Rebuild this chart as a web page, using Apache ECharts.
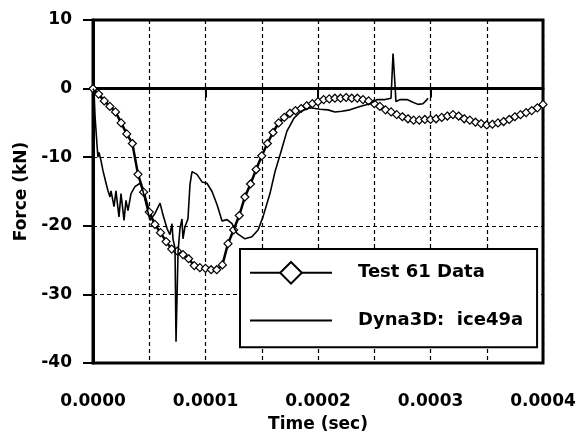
<!DOCTYPE html>
<html>
<head>
<meta charset="utf-8">
<script src="https://cdn.jsdelivr.net/npm/echarts@6/dist/echarts.min.js"></script>
<style>
html,body{margin:0;padding:0;background:#fff;}
#c{width:582px;height:438px;}
</style>
</head>
<body>
<div id="c"></div>
<script>
// Time in microseconds (axis labels shown in seconds)
var testT = [0,5,10,15,20,25,30,35,40,45,50,55,60,65,70,75,80,85,90,95,100,105,110,115,120,125,130,135,140,145,150,155,160,165,170,175,180,185,190,195,200,205,210,215,220,225,230,235,240,245,250,255,260,265,270,275,280,285,290,295,300,305,310,315,320,325,330,335,340,345,350,355,360,365,370,375,380,385,390,395,400];
var testF = [0,-0.8,-1.8,-2.6,-3.4,-5.0,-6.6,-8.0,-12.5,-15.1,-18.0,-19.8,-21.0,-22.3,-23.4,-23.7,-24.2,-24.8,-25.8,-26.1,-26.2,-26.4,-26.4,-25.7,-22.6,-20.6,-18.5,-15.8,-13.9,-11.8,-9.8,-8.0,-6.4,-5.0,-4.2,-3.6,-3.2,-2.9,-2.5,-2.2,-1.9,-1.6,-1.5,-1.4,-1.4,-1.3,-1.4,-1.4,-1.6,-1.8,-2.2,-2.6,-3.1,-3.4,-3.8,-4.1,-4.4,-4.6,-4.6,-4.5,-4.5,-4.4,-4.2,-4.0,-3.8,-4.0,-4.4,-4.6,-4.9,-5.1,-5.3,-5.2,-5.0,-4.8,-4.5,-4.1,-3.8,-3.5,-3.2,-2.8,-2.3];

var dynaT = [0,0.9,1.8,3.6,4.4,5.3,7.1,8.9,11.6,13.3,15.1,16.0,18.7,20.4,23.1,24.9,27.6,29.3,31.1,33.8,37.3,41.8,44.4,47.1,50.7,55.1,59.6,62.2,65.8,68.4,70.2,71.1,72.9,73.8,75.6,77.3,79.1,80.0,81.8,84.4,86.2,88.0,92.4,96.9,101.3,105.8,110.2,114.7,119.1,123.6,128.0,135.1,141.3,146.7,151.1,157.3,161.8,167.1,172.4,178.7,184.9,192.9,201.8,208.9,215.1,221.3,228.4,237.3,246.2,252.4,259.6,264.9,265.8,266.7,268.4,269.3,272.9,279.1,284.4,288.9,293.3,296.9,297.8];
var dynaF = [0,-0.3,-4.0,-8.3,-10.0,-9.3,-10.5,-12.0,-13.8,-14.9,-15.8,-14.9,-17.2,-14.9,-18.7,-15.3,-19.2,-16.3,-17.8,-15.3,-14.3,-13.8,-14.9,-16.8,-19.2,-18.2,-16.7,-18.4,-20.4,-21.3,-19.7,-21.9,-23.3,-36.9,-23.8,-20.4,-19.0,-21.9,-20.1,-19.0,-14.0,-12.1,-12.5,-13.6,-13.8,-15.0,-16.9,-19.3,-19.1,-19.7,-21.1,-21.9,-21.6,-20.6,-18.7,-15.3,-12.1,-9.2,-6.2,-4.3,-3.3,-2.8,-3.0,-3.1,-3.4,-3.3,-3.1,-2.6,-2.2,-1.6,-1.6,-1.4,-1.2,5.1,0.7,-1.9,-1.6,-1.6,-2.0,-2.3,-2.2,-1.6,-1.4];

var xTicks = [0,100,200,300,400];
var yTicks = [-40,-30,-20,-10,0,10];
var seriesNames = ['Test 61 Data', 'Dyna3D:  ice49a'];
var axisNames = {x:'Time (sec)', y:'Force (kN)'};

function zip(a,b){var r=[];for(var i=0;i<a.length;i++){r.push([a[i],b[i]]);}return r;}

var FONT = 'DejaVu Sans';
var chart = echarts.init(document.getElementById('c'), null, {renderer:'canvas'});
var dash = {color:'#000', width:1.2, type:[4,3]};
chart.setOption({
  animation:false,
  backgroundColor:'#fff',
  grid:{left:93, right:39, top:20, bottom:75, show:true, borderColor:'#000', borderWidth:3, backgroundColor:'transparent'},
  xAxis:{
    type:'value', min:xTicks[0], max:xTicks[xTicks.length-1], interval:100,
    name:axisNames.x, nameLocation:'middle', nameGap:53,
    nameTextStyle:{fontFamily:FONT, fontWeight:'bold', fontSize:17, color:'#000'},
    axisLine:{lineStyle:{color:'#000', width:3}},
    axisTick:{show:true, inside:false, length:9, lineStyle:{color:'#000', width:2}},
    minorTick:{show:false, splitNumber:2},
    axisLabel:{margin:30, fontFamily:FONT, fontWeight:'bold', fontSize:17, color:'#000',
      formatter:function(v){return (v/1e6).toFixed(4);}},
    splitLine:{show:true, lineStyle:dash},
    minorSplitLine:{show:true, lineStyle:dash}
  },
  yAxis:{
    type:'value', min:yTicks[0], max:yTicks[yTicks.length-1], interval:10,
    name:axisNames.y, nameLocation:'middle', nameGap:59, nameRotate:90,
    nameTextStyle:{fontFamily:FONT, fontWeight:'bold', fontSize:17, color:'#000'},
    axisLine:{show:true, lineStyle:{color:'#000', width:3}},
    axisTick:{show:true, inside:false, length:10, lineStyle:{color:'#000', width:2}},
    axisLabel:{margin:21, fontFamily:FONT, fontWeight:'bold', fontSize:17, color:'#000'},
    splitLine:{show:true, lineStyle:dash}
  },
  legend:{
    orient:'vertical', left:240, top:249,
    data:seriesNames,
    itemWidth:82, itemHeight:27, itemGap:25,
    padding:[12,14,16,9],
    borderColor:'#000', borderWidth:2, backgroundColor:'#fff',
    textStyle:{fontFamily:FONT, fontWeight:'bold', fontSize:18, color:'#000', padding:[0,0,0,21]}
  },
  series:[
    {
      name:seriesNames[0], type:'line', data:zip(testT,testF), z:3,
      symbol:'diamond', symbolSize:8, showSymbol:true,
      lineStyle:{color:'#000', width:2.5},
      itemStyle:{color:'#fff', borderColor:'#000', borderWidth:1.2}
    },
    {
      name:seriesNames[1], type:'line', data:zip(dynaT,dynaF), z:4,
      symbol:'none',
      lineStyle:{color:'#000', width:1.6},
      itemStyle:{color:'rgba(0,0,0,0)', borderColor:'rgba(0,0,0,0)', borderWidth:0}
    }
  ]
});
</script>
</body>
</html>
